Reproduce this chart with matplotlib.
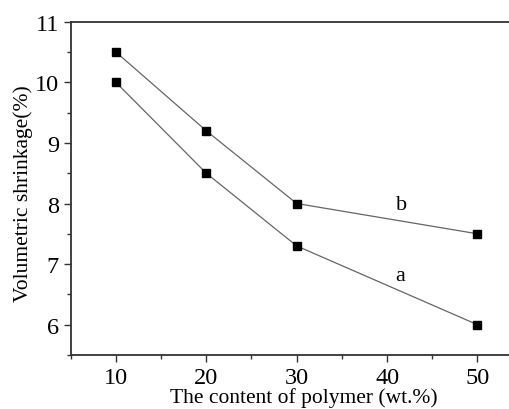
import matplotlib
matplotlib.use('Agg')
import matplotlib.pyplot as plt
from matplotlib.ticker import MultipleLocator

plt.rcParams['font.family'] = ['Liberation Serif', 'DejaVu Serif']

# datos
contenido = [10, 20, 30, 50]
serie_a = [10.0, 8.5, 7.3, 6.0]
serie_b = [10.5, 9.2, 8.0, 7.5]

fig = plt.figure(figsize=(5.1, 4.1), dpi=100)
ax = fig.add_axes([0.1386, 0.1317, 0.8614, 0.8129])

ax.plot(contenido, serie_a, color='#666666', lw=0.9, marker='s', ms=5.6,
        mfc='black', mec='black')
ax.plot(contenido, serie_b, color='#666666', lw=0.9, marker='s', ms=5.6,
        mfc='black', mec='black')

ax.text(41.4, 6.82, 'a', fontsize=16, ha='center', va='center')
ax.text(41.6, 7.98, 'b', fontsize=16, ha='center', va='center')

ax.set_xlim(5, 53.6)
ax.set_ylim(5.5, 11)
ax.xaxis.set_major_locator(MultipleLocator(10))
ax.xaxis.set_minor_locator(MultipleLocator(5))
ax.yaxis.set_major_locator(MultipleLocator(1))
ax.yaxis.set_minor_locator(MultipleLocator(0.5))
ax.tick_params(which='both', direction='out', labelsize=17.5, width=1, color='#333333')
ax.tick_params(which='major', length=5)
ax.tick_params(which='minor', length=3)

ax.spines['right'].set_visible(False)
for s in ['left', 'bottom', 'top']:
    ax.spines[s].set_linewidth(1.3)
    ax.spines[s].set_color('#333333')

# etiquetas de los ejes
ax.set_xlabel('The content of polymer (wt.%)', fontsize=15.5)
ax.set_ylabel('Volumetric shrinkage(%)', fontsize=15.5)
ax.xaxis.set_label_coords((304 - 70.7) / 439.3, -(398 - 356) / 333.3)
ax.yaxis.set_label_coords(-(70.7 - 23) / 439.3, (356 - 194) / 333.3)
ax.xaxis.label.set_va('center')
ax.yaxis.label.set_va('center')

fig.savefig('out.png', dpi=100)
